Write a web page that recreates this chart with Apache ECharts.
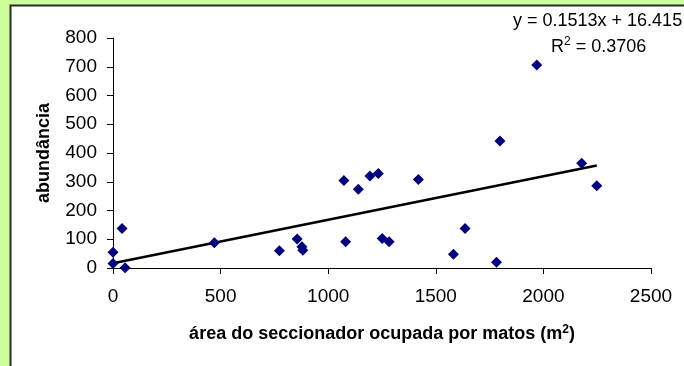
<!DOCTYPE html>
<html>
<head>
<meta charset="utf-8">
<script src="https://cdn.jsdelivr.net/npm/echarts@6/dist/echarts.min.js"></script>
<style>
  html, body { margin: 0; padding: 0; background: #ccff99; }
  #chart { width: 684px; height: 366px; }
</style>
</head>
<body>
<div id="chart"></div>
<script>
// Shrub-covered area of each section (m²) and abundance counted there
var areaM2 = [0, 0, 42, 56, 471, 773, 856, 878, 882, 1073, 1081, 1140, 1194, 1233, 1251, 1283, 1419, 1582, 1636, 1782, 1798, 1969, 2178, 2248];
var abundance = [55, 16, 137, 1, 88, 60, 101, 74, 62, 304, 91, 274, 320, 329, 103, 91, 308, 48, 137, 20, 442, 706, 364, 286];

// Linear trendline: y = slope * x + intercept, R² as reported
var slope = 0.1513;
var intercept = 16.415;
var rSquared = '0.3706';

var xTicks = [0, 500, 1000, 1500, 2000, 2500];
var yTicks = [0, 100, 200, 300, 400, 500, 600, 700, 800];

var points = areaM2.map(function (x, i) { return [x, abundance[i]]; });
var xMax = Math.max.apply(null, areaM2);
var trend = [[0, intercept], [xMax, slope * xMax + intercept]];

var font = 'Arial, "Liberation Sans", sans-serif';
var plain = function (v) { return String(v); };

var chart = echarts.init(document.getElementById('chart'), null, { renderer: 'canvas' });
chart.setOption({
  backgroundColor: '#ccff99',
  animation: false,
  grid: { left: 113, right: 33, top: 38, bottom: 98, containLabel: false },
  graphic: [
    {
      type: 'rect', z: -10, silent: true,
      shape: { x: 10.5, y: 5.5, width: 700, height: 400 },
      style: { fill: '#ffffff', stroke: '#2a2a2a', lineWidth: 2 }
    },
    {
      type: 'text', z: 10, left: 513, top: 12,
      style: { text: 'y = ' + slope + 'x + ' + intercept, font: '18px ' + font, fill: '#000' }
    },
    {
      type: 'text', z: 10, left: 551, top: 36,
      style: {
        text: '{n|R}{s|2}{n| = ' + rSquared + '}',
        rich: {
          n: { fontSize: 18, fontFamily: font, color: '#000', verticalAlign: 'bottom' },
          s: { fontSize: 12, fontFamily: font, color: '#000', verticalAlign: 'top', padding: [0, 0, 8, 0] }
        }
      }
    }
  ],
  xAxis: {
    type: 'value', min: xTicks[0], max: xTicks[xTicks.length - 1], interval: 500,
    splitLine: { show: false },
    axisLine: { show: true, onZero: false, lineStyle: { color: '#000', width: 1 } },
    axisTick: { show: true, length: 6, lineStyle: { color: '#000' } },
    axisLabel: { margin: 19, fontSize: 19, fontFamily: font, color: '#000', formatter: plain },
    name: '{t|área do seccionador ocupada por matos (m}{s|2}{t|)}',
    nameLocation: 'middle', nameGap: 56,
    nameTextStyle: {
      rich: {
        t: { fontSize: 18, fontWeight: 'bold', fontFamily: font, color: '#000' },
        s: { fontSize: 12, fontWeight: 'bold', fontFamily: font, color: '#000', padding: [0, 0, 8, 0] }
      }
    }
  },
  yAxis: {
    type: 'value', min: yTicks[0], max: yTicks[yTicks.length - 1], interval: 100,
    splitLine: { show: false },
    axisLine: { show: true, onZero: false, lineStyle: { color: '#000', width: 1 } },
    axisTick: { show: true, length: 6, lineStyle: { color: '#000' } },
    axisLabel: { margin: 16, fontSize: 19, fontFamily: font, color: '#000', formatter: plain },
    name: 'abundância', nameLocation: 'middle', nameGap: 60, nameRotate: 90,
    nameTextStyle: { fontSize: 18, fontWeight: 'bold', fontFamily: font, color: '#000' }
  },
  series: [
    {
      type: 'line', data: trend, symbol: 'none', z: 3,
      lineStyle: { color: '#000', width: 2.5 }
    },
    {
      type: 'scatter', data: points, symbol: 'diamond', symbolSize: 11, z: 4,
      itemStyle: { color: '#000080', opacity: 1 }
    }
  ]
});
</script>
</body>
</html>
